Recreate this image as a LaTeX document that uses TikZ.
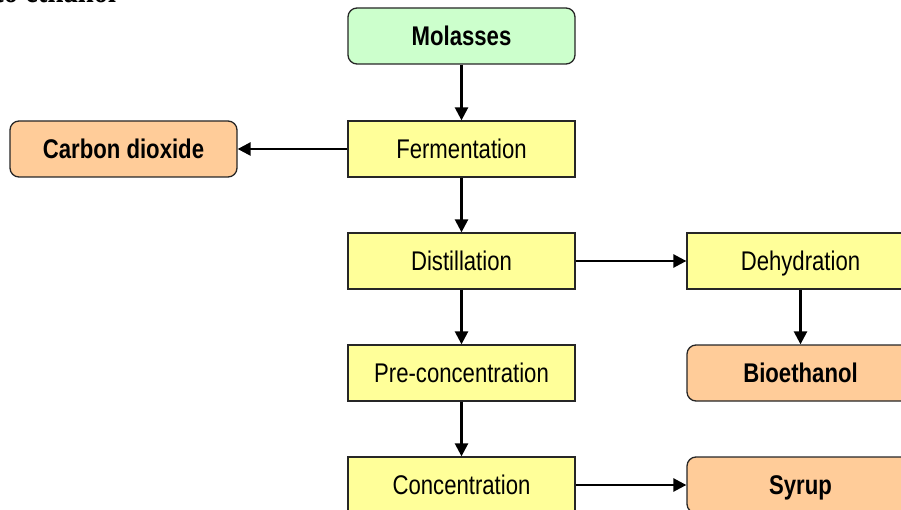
\documentclass[tikz,border=0pt]{standalone}
\usepackage{fontspec}
\setmainfont{Liberation Sans}[FakeStretch=0.82]
\newfontfamily\titlefont{Liberation Serif}[FakeStretch=0.82]
\usetikzlibrary{arrows.meta}
\definecolor{greenfill}{HTML}{CCFFCC}
\definecolor{yellowfill}{HTML}{FFFF99}
\definecolor{orangefill}{HTML}{FFCC99}
\tikzset{
  boxbase/.style={draw=black!85, line width=1.3pt, minimum width=227pt, minimum height=56pt,
    inner sep=0pt, text height=22pt, text depth=3.4pt, font=\fontsize{27}{30}\selectfont},
  procbox/.style={boxbase, fill=yellowfill},
  srcbox/.style={boxbase, fill=greenfill, rounded corners=9pt, font=\fontsize{27}{30}\selectfont\bfseries},
  prodbox/.style={boxbase, fill=orangefill, rounded corners=9pt, font=\fontsize{27}{30}\selectfont\bfseries},
  flow/.style={line width=2.5pt, -{Triangle[length=13pt,width=13pt]}}
}
\begin{document}
\begin{tikzpicture}[x=1pt,y=-1pt]
\useasboundingbox (0,0) rectangle (901,510);
\node[anchor=base west, inner sep=0pt, font=\titlefont\fontsize{35}{38}\selectfont\bfseries] (title) at (-6,2.5) {to ethanol};
\node[srcbox] (mol) at (461.5,36) {Molasses};
\node[procbox] (fer) at (461.5,149) {Fermentation};
\node[prodbox] (co2) at (123.5,149) {Carbon dioxide};
\node[procbox] (dis) at (461.5,261) {Distillation};
\node[procbox] (deh) at (800.5,261) {Dehydration};
\node[procbox] (pre) at (461.5,373) {Pre-concentration};
\node[prodbox] (bio) at (800.5,373) {Bioethanol};
\node[procbox] (con) at (461.5,485) {Concentration};
\node[prodbox] (syr) at (800.5,485) {Syrup};
\draw[flow] (mol) -- (fer);
\draw[flow] (fer) -- (co2);
\draw[flow] (fer) -- (dis);
\draw[flow] (dis) -- (deh);
\draw[flow] (deh) -- (bio);
\draw[flow] (dis) -- (pre);
\draw[flow] (pre) -- (con);
\draw[flow] (con) -- (syr);
\end{tikzpicture}
\end{document}
